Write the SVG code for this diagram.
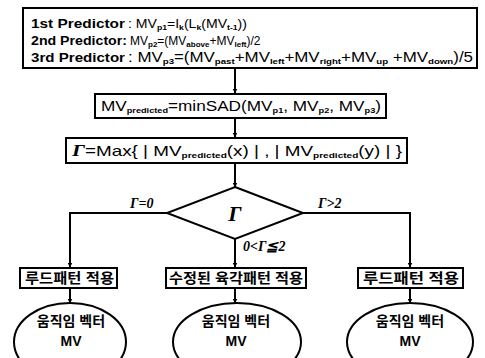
<svg xmlns="http://www.w3.org/2000/svg" width="485" height="358" viewBox="0 0 485 358">
<defs>
<marker id="ah" viewBox="0 0 10 10" refX="9" refY="5" markerWidth="5" markerHeight="5" orient="auto" markerUnits="userSpaceOnUse">
<path d="M0,0 L10,5 L0,10 z" fill="#000"/>
</marker>
<style>
.box{fill:#fff;stroke:#000;stroke-width:2}
.ln{fill:none;stroke:#000;stroke-width:2}
.t{font-family:"Liberation Sans",Arial,sans-serif;fill:#000}
.b{font-family:"Liberation Sans",Arial,sans-serif;font-weight:bold;fill:#000;font-size:13px}
.g{font-family:"Liberation Serif","Times New Roman",serif;font-style:italic;font-weight:bold;fill:#000}
.k{font-family:"Liberation Sans","Noto Sans CJK KR",sans-serif;font-weight:bold;fill:#000;font-size:14px}
.s{font-size:8px;font-weight:bold}
</style>
</defs>
<rect width="485" height="358" fill="#fff"/>
<g id="connectors">
<path class="ln" d="M235,68 V93" marker-end="url(#ah)"/>
<path class="ln" d="M235,118 V137" marker-end="url(#ah)"/>
<path class="ln" d="M235,163 V187" marker-end="url(#ah)"/>
<path class="ln" d="M167,213 H70 V267" marker-end="url(#ah)"/>
<path class="ln" d="M235,239 V267" marker-end="url(#ah)"/>
<path class="ln" d="M303,213 H410 V267" marker-end="url(#ah)"/>
<path class="ln" d="M70,288 V303" marker-end="url(#ah)"/>
<path class="ln" d="M235,288 V303" marker-end="url(#ah)"/>
<path class="ln" d="M410,288 V303" marker-end="url(#ah)"/>
<text class="g" x="130" y="208" font-size="14">Γ=0</text>
<text class="g" x="318" y="208" font-size="14">Γ&gt;2</text>
<text class="g" x="243" y="251" font-size="14">0&lt;Γ≦2</text>
</g>
<g id="predictors">
<rect class="box" x="23" y="8" width="454" height="60"/>
<text class="b" x="31" y="28" textLength="94" lengthAdjust="spacingAndGlyphs">1st Predictor</text>
<text class="t" x="128" y="28" font-size="13" textLength="119" lengthAdjust="spacingAndGlyphs">: MV<tspan class="s" dy="2">p1</tspan><tspan dy="-2">=I</tspan><tspan class="s" dy="2">k</tspan><tspan dy="-2">(L</tspan><tspan class="s" dy="2">k</tspan><tspan dy="-2">(MV</tspan><tspan class="s" dy="2">t-1</tspan><tspan dy="-2">))</tspan></text>
<text class="b" x="31" y="45" textLength="96" lengthAdjust="spacingAndGlyphs">2nd Predictor:</text>
<text class="t" x="130" y="45" font-size="12">MV<tspan class="s" dy="2">p2</tspan><tspan dy="-2">=(MV</tspan><tspan class="s" dy="2">above</tspan><tspan dy="-2">+MV</tspan><tspan class="s" dy="2">left</tspan><tspan dy="-2">)/2</tspan></text>
<text class="b" x="31" y="62" textLength="94" lengthAdjust="spacingAndGlyphs">3rd Predictor</text>
<text class="t" x="128" y="62" font-size="14" textLength="345" lengthAdjust="spacingAndGlyphs">: MV<tspan class="s" dy="2" font-size="9">p3</tspan><tspan dy="-2">=(MV</tspan><tspan class="s" dy="2" font-size="9">past</tspan><tspan dy="-2">+MV</tspan><tspan class="s" dy="2" font-size="9">left</tspan><tspan dy="-2">+MV</tspan><tspan class="s" dy="2" font-size="9">right</tspan><tspan dy="-2">+MV</tspan><tspan class="s" dy="2" font-size="9">up</tspan><tspan dy="-2"> +MV</tspan><tspan class="s" dy="2" font-size="9">down</tspan><tspan dy="-2">)/5</tspan></text>
</g>
<g id="minsad">
<rect class="box" x="95" y="94" width="291" height="24"/>
<text class="t" x="101" y="111" font-size="15" textLength="280" lengthAdjust="spacingAndGlyphs">MV<tspan class="s" dy="2">predicted</tspan><tspan dy="-2">=minSAD(MV</tspan><tspan class="s" dy="2">p1</tspan><tspan dy="-2">, MV</tspan><tspan class="s" dy="2">p2</tspan><tspan dy="-2">, MV</tspan><tspan class="s" dy="2">p3</tspan><tspan dy="-2">)</tspan></text>
</g>
<g id="gamma-max">
<rect class="box" x="66" y="138" width="341" height="25"/>
<text class="t" x="72" y="156" font-size="15" textLength="330" lengthAdjust="spacingAndGlyphs"><tspan class="g" font-size="17">Γ</tspan>=Max{ | MV<tspan class="s" dy="2">predicted</tspan><tspan dy="-2">(x) | , | MV</tspan><tspan class="s" dy="2">predicted</tspan><tspan dy="-2">(y) | }</tspan></text>
</g>
<g id="decision">
<polygon class="box" points="235,187 303,213 235,239 167,213"/>
<text class="g" x="235" y="221" font-size="22" text-anchor="middle">Γ</text>
</g>
<g id="left-pattern">
<rect class="box" x="20" y="268" width="97" height="20"/>
<text class="k" x="25" y="283" textLength="89" lengthAdjust="spacingAndGlyphs">루드패턴 적용</text>
</g>
<g id="mid-pattern">
<rect class="box" x="166" y="268" width="140" height="20"/>
<text class="k" x="169" y="283" textLength="134" lengthAdjust="spacingAndGlyphs">수정된 육각패턴 적용</text>
</g>
<g id="right-pattern">
<rect class="box" x="358" y="268" width="105" height="20"/>
<text class="k" x="363" y="283" textLength="96" lengthAdjust="spacingAndGlyphs">루드패턴 적용</text>
</g>
<g id="left-mv">
<ellipse class="box" cx="70" cy="342" rx="56" ry="39"/>
<text class="k" x="71" y="326" text-anchor="middle">움직임 벡터</text>
<text class="k" x="71" y="346" text-anchor="middle" font-size="15">MV</text>
</g>
<g id="mid-mv">
<ellipse class="box" cx="237" cy="342" rx="64" ry="39"/>
<text class="k" x="236" y="326" text-anchor="middle">움직임 벡터</text>
<text class="k" x="236" y="346" text-anchor="middle" font-size="15">MV</text>
</g>
<g id="right-mv">
<ellipse class="box" cx="410" cy="342" rx="63" ry="39"/>
<text class="k" x="410" y="326" text-anchor="middle">움직임 벡터</text>
<text class="k" x="410" y="346" text-anchor="middle" font-size="15">MV</text>
</g>
</svg>
